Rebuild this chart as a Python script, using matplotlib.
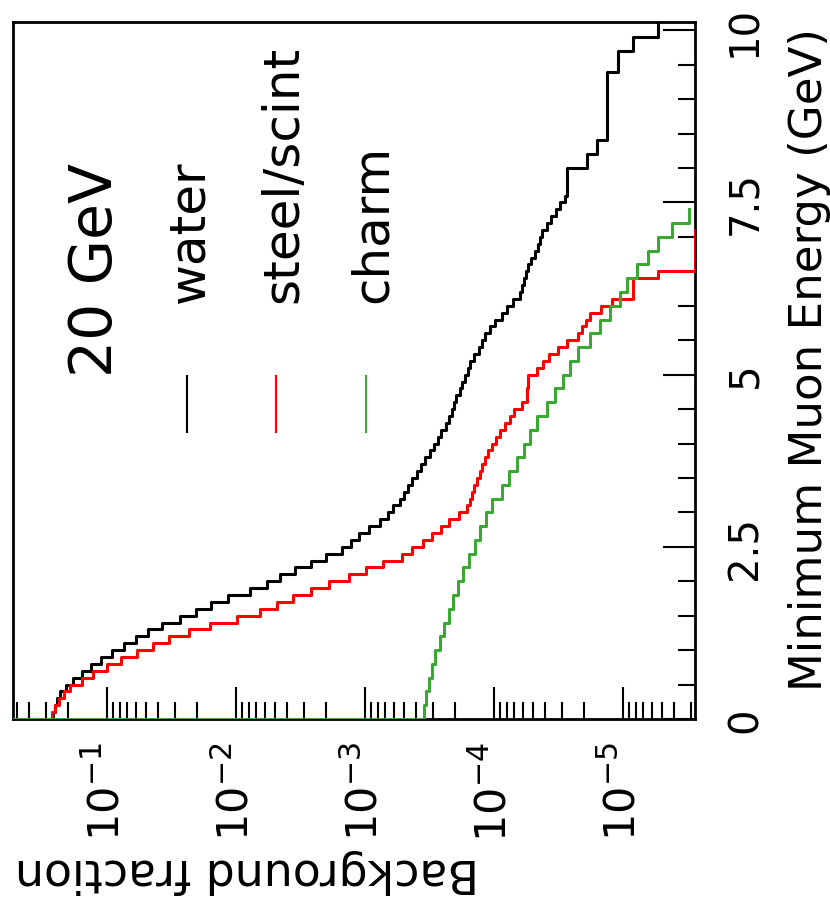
import numpy as np
import matplotlib
matplotlib.use("Agg")
import matplotlib.pyplot as plt
from matplotlib.ticker import LogLocator, NullFormatter, MultipleLocator, FixedLocator, LogFormatterMathtext
from matplotlib.lines import Line2D

# --- data: fraction of events with muon energy above the bin ---
# water and steel/scint in 0.1 GeV bins, charm in 0.2 GeV bins, all starting at 0
WATER_BIN = 0.1
WATER = [0.262, 0.253, 0.244, 0.231, 0.208, 0.183, 0.156, 0.133, 0.111, 0.0915,
         0.0738, 0.0596, 0.0481, 0.0375, 0.0272, 0.0204, 0.0156, 0.0115, 0.00778, 0.00575,
         0.00456, 0.00349, 0.00262, 0.00200, 0.00151, 0.00128, 0.00111, 9.3e-4, 7.65e-4, 6.64e-4,
         6.07e-4, 5.36e-4, 4.99e-4, 4.65e-4, 4.32e-4, 3.95e-4, 3.68e-4, 3.43e-4, 3.13e-4, 2.92e-4,
         2.72e-4, 2.58e-4, 2.36e-4, 2.23e-4, 2.12e-4, 2.04e-4, 1.97e-4, 1.84e-4, 1.77e-4, 1.68e-4,
         1.59e-4, 1.53e-4, 1.43e-4, 1.31e-4, 1.24e-4, 1.17e-4, 1.07e-4, 9.8e-5, 8.7e-5, 7.9e-5,
         7.1e-5, 6.3e-5, 6.07e-5, 5.85e-5, 5.65e-5, 5.45e-5, 5.16e-5, 4.81e-5, 4.56e-5, 4.40e-5,
         4.25e-5, 3.88e-5, 3.61e-5, 3.30e-5, 3.08e-5, 2.82e-5, 2.72e-5, 2.72e-5, 2.72e-5, 2.72e-5,
         1.90e-5, 1.90e-5, 1.59e-5, 1.59e-5, 1.33e-5, 1.33e-5, 1.33e-5, 1.33e-5, 1.33e-5, 1.33e-5,
         1.33e-5, 1.33e-5, 1.33e-5, 1.33e-5, 1.09e-5, 1.09e-5, 1.09e-5, 8.4e-6, 8.4e-6, 5.4e-6,
         5.4e-6, 5.4e-6]
STEEL_BIN = 0.1
STEEL = [0.267, 0.253, 0.236, 0.215, 0.194, 0.156, 0.128, 0.100, 0.0779, 0.0585,
         0.0440, 0.0331, 0.0231, 0.0159, 0.00982, 0.00652, 0.00481, 0.00361, 0.00262, 0.00190,
         0.00133, 9.8e-4, 7.25e-4, 5.16e-4, 4.32e-4, 3.55e-4, 3.03e-4, 2.58e-4, 2.23e-4, 1.87e-4,
         1.62e-4, 1.53e-4, 1.48e-4, 1.43e-4, 1.36e-4, 1.29e-4, 1.24e-4, 1.17e-4, 1.11e-4, 1.04e-4,
         9.6e-5, 8.98e-5, 8.2e-5, 7.5e-5, 7.0e-5, 6.07e-5, 5.55e-5, 5.55e-5, 5.45e-5, 5.45e-5,
         4.65e-5, 4.17e-5, 3.75e-5, 3.19e-5, 2.72e-5, 2.23e-5, 2.08e-5, 1.94e-5, 1.80e-5, 1.48e-5,
         1.22e-5, 8.4e-6, 8.4e-6, 8.4e-6, 5.4e-6, 0, 0, 0, 0, 0, 0]
CHARM_BIN = 0.2
CHARM = [3.49e-4, 3.37e-4, 3.19e-4, 3.03e-4, 2.86e-4, 2.62e-4, 2.44e-4, 2.23e-4, 2.08e-4, 1.90e-4,
         1.74e-4, 1.56e-4, 1.40e-4, 1.29e-4, 1.15e-4, 1.04e-4, 8.7e-5, 7.7e-5, 6.7e-5, 5.85e-5,
         5.26e-5, 4.65e-5, 3.88e-5, 3.37e-5, 2.92e-5, 2.58e-5, 2.23e-5, 1.80e-5, 1.51e-5, 1.26e-5,
         1.05e-5, 9.3e-6, 7.8e-6, 6.4e-6, 5.4e-6, 4.2e-6, 3.1e-6]

SERIES = [("water", WATER, WATER_BIN, "black"),
          ("steel/scint", STEEL, STEEL_BIN, "#ff0000"),
          ("charm", CHARM, CHARM_BIN, "#3aa832")]
FRAC_LIM = (0.536, 2.77e-6)
E_LIM = (0, 10.12)
E_TICKS = [0, 2.5, 5, 7.5, 10]
E_TICK_LABELS = ["0", "2.5", "5", "7.5", "10"]

W, H = 830, 904


def fig_xy(x, y):
    # pixel position (from top-left) -> figure fraction
    return x / W, 1 - y / H


def step_xy(vals, width, start):
    vals = np.asarray(vals, dtype=float)
    vals = np.where(vals > 0, vals, FRAC_LIM[1])  # empty bins sit on the frame
    edges = width * np.arange(len(vals) + 1)
    x = np.r_[start, np.repeat(vals, 2)]
    y = np.r_[edges[0], edges[0], np.repeat(edges[1:-1], 2), edges[-1]]
    return x, y


def main():
    plt.rcParams['font.family'] = ['DejaVu Sans']
    fig = plt.figure(figsize=(W / 100, H / 100), dpi=100)
    l, b = fig_xy(13, 720)
    ax = fig.add_axes([l, b, (695 - 13) / W, (720 - 23) / H])

    for name, vals, width, color in SERIES:
        x, y = step_xy(vals, width, FRAC_LIM[0])
        ax.plot(x, y, color=color, lw=2.2, zorder=3)

    ax.set_xscale('log')
    ax.set_xlim(*FRAC_LIM)
    ax.set_ylim(*E_LIM)

    # --- log axis (bottom) ---
    ax.xaxis.set_major_locator(LogLocator(base=10))
    ax.xaxis.set_minor_locator(LogLocator(base=10, subs=np.arange(2, 10)))
    ax.xaxis.set_major_formatter(LogFormatterMathtext())
    ax.xaxis.set_minor_formatter(NullFormatter())
    ax.tick_params(axis='x', which='both', direction='in', top=False, bottom=True, width=1.5,
                   labelsize=31, pad=16, labelrotation=90)
    ax.tick_params(axis='x', which='major', length=23)
    ax.tick_params(axis='x', which='minor', length=12)

    # --- energy axis (right) ---
    ax.yaxis.tick_right()
    ax.yaxis.set_major_locator(FixedLocator(E_TICKS))
    ax.set_yticklabels(E_TICK_LABELS)
    ax.yaxis.set_minor_locator(MultipleLocator(0.5))
    ax.tick_params(axis='y', which='both', direction='in', left=False, right=True, width=1.5,
                   labelsize=29, pad=22, labelrotation=90)
    ax.tick_params(axis='y', which='major', length=23)
    ax.tick_params(axis='y', which='minor', length=12)
    for lab in ax.get_yticklabels():
        lab.set_va('center')

    for sp in ax.spines.values():
        sp.set_linewidth(2)

    # --- axis titles ---
    fig.text(*fig_xy(15, 872), "Background fraction", rotation=180, ha='left', va='center', fontsize=33)
    fig.text(*fig_xy(809, 28), "Minimum Muon Energy (GeV)", rotation=90, ha='center', va='top', fontsize=32.5)

    # --- legend ---
    fig.text(*fig_xy(112, 377), "20 GeV", rotation=90, rotation_mode='anchor', ha='left', va='baseline',
             fontsize=42)
    key_x = [187, 276, 366]
    text_x = [203, 297, 387]
    for (name, vals, width, color), kx, tx in zip(SERIES, key_x, text_x):
        x0, y0 = fig_xy(kx, 377)
        x1, y1 = fig_xy(kx, 433)
        fig.add_artist(Line2D([x0, x1], [y0, y1], color=color, lw=1.5))
        fig.text(*fig_xy(tx, 303), name, rotation=90, rotation_mode='anchor', ha='left', va='baseline',
                 fontsize=36)

    fig.savefig("out.png", dpi=100)


if __name__ == "__main__":
    main()
